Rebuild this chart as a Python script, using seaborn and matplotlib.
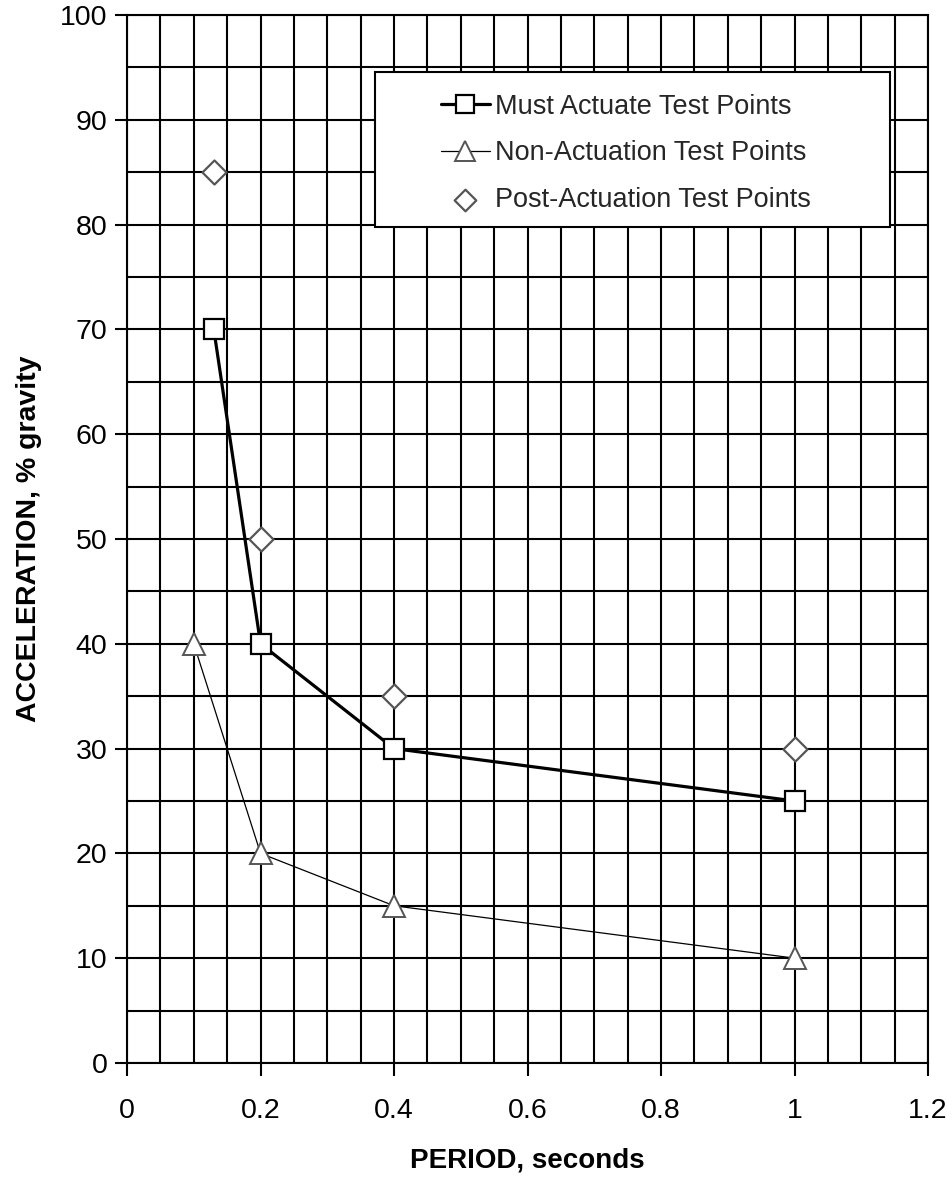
import matplotlib
matplotlib.use("Agg")
import matplotlib.pyplot as plt
import seaborn as sns
import pandas as pd
from matplotlib.patches import Rectangle
from matplotlib.ticker import MultipleLocator

# values
must_period = [0.13, 0.2, 0.4, 1.0]
must_accel = [70, 40, 30, 25]
non_period = [0.1, 0.2, 0.4, 1.0]
non_accel = [40, 20, 15, 10]
post_period = [0.13, 0.2, 0.4, 1.0]
post_accel = [85, 50, 35, 30]

x_ticks = [0, 0.2, 0.4, 0.6, 0.8, 1.0, 1.2]
x_tick_labels = ["0", "0.2", "0.4", "0.6", "0.8", "1", "1.2"]
y_ticks = [0, 10, 20, 30, 40, 50, 60, 70, 80, 90, 100]

must_label = "Must Actuate Test Points"
non_label = "Non-Actuation Test Points"
post_label = "Post-Actuation Test Points"

sns.set_style("white")
plt.rcParams['font.family'] = ['Liberation Sans', 'DejaVu Sans']

must_df = pd.DataFrame({"period": must_period, "accel": must_accel})
non_df = pd.DataFrame({"period": non_period, "accel": non_accel})
post_df = pd.DataFrame({"period": post_period, "accel": post_accel})

fig = plt.figure(figsize=(9.53, 11.85), dpi=100)
ax = fig.add_axes([0.1333, 0.1030, 0.8405, 0.8843])

sns.lineplot(data=must_df, x="period", y="accel", ax=ax, color="black",
             linewidth=2.3, marker="s", markersize=14, markerfacecolor="white",
             markeredgecolor="black", markeredgewidth=1.6, label=must_label,
             zorder=4)
sns.lineplot(data=non_df, x="period", y="accel", ax=ax, color="black",
             linewidth=0.9, marker="^", markersize=16, markerfacecolor="white",
             markeredgecolor="#555555", markeredgewidth=1.4, label=non_label,
             zorder=4)
sns.scatterplot(data=post_df, x="period", y="accel", ax=ax, marker="D",
                s=150, facecolor="white", edgecolor="#555555", linewidth=1.6,
                label=post_label, zorder=5)

ax.set_xlim(0, 1.2)
ax.set_ylim(0, 100)
ax.set_xticks(x_ticks)
ax.set_xticklabels(x_tick_labels)
ax.set_yticks(y_ticks)
ax.xaxis.set_minor_locator(MultipleLocator(0.05))
ax.yaxis.set_minor_locator(MultipleLocator(5))

ax.grid(True, which="both", color="black", linewidth=1.5)
ax.set_axisbelow(True)
for s in ax.spines.values():
    s.set_color("black")
    s.set_linewidth(1.5)

ax.tick_params(axis="both", which="major", direction="out", length=9,
               width=1.5, color="black", labelcolor="black", labelsize=20.5,
               bottom=True, left=True)
ax.tick_params(axis="x", which="major", pad=16)
ax.tick_params(axis="y", which="major", pad=5)
ax.tick_params(axis="both", which="minor", length=0)

ax.set_xlabel("PERIOD, seconds", fontsize=20, fontweight="bold",
              color="black", labelpad=17.5)
ax.set_ylabel("ACCELERATION, % gravity", fontsize=20.5, fontweight="bold",
              color="black")
ax.yaxis.set_label_coords(-0.106, 0.5)

# legend frame drawn as a box wider than its entries, like the original
box = Rectangle((0.3096, 0.7977), 0.643, 0.148, transform=ax.transAxes,
                facecolor="white", edgecolor="black", linewidth=1.5, zorder=6)
ax.add_patch(box)
leg = ax.legend(loc="upper left", bbox_to_anchor=(0.392, 0.925),
                fontsize=19.5, frameon=False, borderpad=0, borderaxespad=0,
                labelspacing=0.77, handlelength=1.8, handletextpad=0.2,
                markerscale=0.9)
leg.set_zorder(7)

fig.savefig("out.png", dpi=100)
